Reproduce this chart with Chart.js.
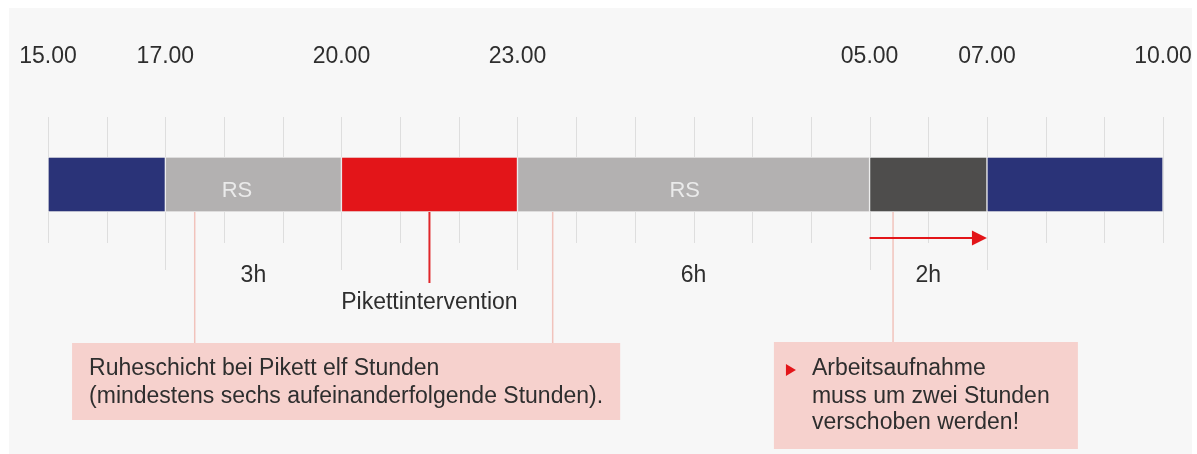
<!DOCTYPE html>
<html>
<head>
<meta charset="utf-8">
<script src="https://cdn.jsdelivr.net/npm/chart.js@4"></script>
<style>
  body { margin: 0; background: #fff; }
  #wrap { width: 1197px; height: 454px; }
</style>
</head>
<body>
<div id="wrap"><canvas id="timeline" width="1197" height="454"></canvas></div>
<script>
// hours counted from 15.00
const tickHours = [0, 2, 5, 8, 14, 16, 19];
const tickLabels = ["15.00", "17.00", "20.00", "23.00", "05.00", "07.00", "10.00"];
const segStart = [0, 2, 5, 8, 14, 16];
const segEnd = [2, 5, 8, 14, 16, 19];
const segNames = ["Arbeit", "RS", "Pikettintervention", "RS", "Verschoben", "Arbeit"];
const segColors = ["#2a3378", "#b3b1b1", "#e31519", "#b3b1b1", "#4e4d4c", "#2a3378"];
const rsTextAt = [3.22, 10.85];
const longTicks = [2, 5, 8, 14, 16];
const durLabels = ["3h", "6h", "2h"];
const durAt = [3.5, 11, 15];
const piketAt = 6.5;
const restLinks = [2.5, 8.6];
const shiftLink = 14.4;

const FONT = "'Liberation Sans', Arial, Helvetica, sans-serif";
const textColor = "#2e2e2e";

const datasets = segStart.map((s, i) => ({
    label: segNames[i],
    data: [[s, segEnd[i]]],
    backgroundColor: segColors[i],
    borderColor: "#ececec",
    borderWidth: 1,
    borderSkipped: false,
    barPercentage: 1,
    categoryPercentage: 1
}));

const decor = {
    id: "decor",
    beforeDraw(chart) {
        let ctx = chart.ctx;
        ctx.save();
        ctx.fillStyle = "#ffffff";
        ctx.fillRect(0, 0, chart.width, chart.height);
        ctx.fillStyle = "#f7f7f7";
        ctx.fillRect(9, 8, 1183, 446);
        ctx.restore();
    },
    beforeDatasetsDraw(chart) {
        let ctx = chart.ctx;
        let x = chart.scales.x;
        let area = chart.chartArea;
        ctx.save();
        ctx.strokeStyle = "#dedede";
        ctx.lineWidth = 1;
        for (let h = 0; h <= 19; h++) {
            let px = Math.round(x.getPixelForValue(h)) + 0.5;
            let end = longTicks.includes(h) ? area.bottom + 58 : area.bottom + 31;
            ctx.beginPath();
            ctx.moveTo(px, area.top - 40);
            ctx.lineTo(px, end);
            ctx.stroke();
        }
        ctx.restore();
    },
    afterDatasetsDraw(chart) {
        let ctx = chart.ctx;
        let x = chart.scales.x;
        let area = chart.chartArea;
        let b = area.bottom;
        ctx.save();
        ctx.textAlign = "center";
        ctx.textBaseline = "middle";

        // RS labels in the bar
        ctx.fillStyle = "#eaeaea";
        ctx.font = "22px " + FONT;
        rsTextAt.forEach(h => {
            ctx.fillText("RS", x.getPixelForValue(h), (area.top + area.bottom) / 2 + 6);
        });

        // pink connector lines
        ctx.strokeStyle = "#f1c3bc";
        ctx.lineWidth = 1.5;
        restLinks.concat([shiftLink]).forEach(h => {
            let px = x.getPixelForValue(h);
            ctx.beginPath();
            ctx.moveTo(px, b);
            ctx.lineTo(px, b + 131);
            ctx.stroke();
        });

        // Pikett line
        ctx.strokeStyle = "#e0262a";
        ctx.lineWidth = 2;
        let pp = x.getPixelForValue(piketAt);
        ctx.beginPath();
        ctx.moveTo(pp, b);
        ctx.lineTo(pp, b + 71);
        ctx.stroke();

        // duration labels
        ctx.fillStyle = textColor;
        ctx.font = "23px " + FONT;
        durLabels.forEach((t, i) => {
            ctx.fillText(t, x.getPixelForValue(durAt[i]), b + 64);
        });
        ctx.fillText("Pikettintervention", pp, b + 91);

        // arrow 05.00 -> 07.00
        let a0 = x.getPixelForValue(14);
        let a1 = x.getPixelForValue(16);
        let ay = b + 26;
        ctx.strokeStyle = "#e31519";
        ctx.fillStyle = "#e31519";
        ctx.lineWidth = 2;
        ctx.beginPath();
        ctx.moveTo(a0, ay);
        ctx.lineTo(a1 - 14, ay);
        ctx.stroke();
        ctx.beginPath();
        ctx.moveTo(a1, ay);
        ctx.lineTo(a1 - 15, ay - 7.5);
        ctx.lineTo(a1 - 15, ay + 7.5);
        ctx.closePath();
        ctx.fill();

        // note boxes
        ctx.fillStyle = "#f6d1cd";
        let bx1 = x.getPixelForValue(0.41);
        let bx1r = x.getPixelForValue(9.75);
        ctx.fillRect(bx1, b + 131, bx1r - bx1, 77);
        let bx2 = x.getPixelForValue(12.37);
        let bx2r = x.getPixelForValue(17.55);
        ctx.fillRect(bx2, b + 130, bx2r - bx2, 107);

        ctx.fillStyle = textColor;
        ctx.font = "23px " + FONT;
        ctx.textAlign = "left";
        ctx.fillText("Ruheschicht bei Pikett elf Stunden", bx1 + 17, b + 157);
        ctx.fillText("(mindestens sechs aufeinanderfolgende Stunden).", bx1 + 17, b + 185);
        ctx.fillText("Arbeitsaufnahme", bx2 + 38, b + 157);
        ctx.fillText("muss um zwei Stunden", bx2 + 38, b + 185);
        ctx.fillText("verschoben werden!", bx2 + 38, b + 211);

        ctx.fillStyle = "#e31519";
        ctx.beginPath();
        ctx.moveTo(bx2 + 12, b + 152);
        ctx.lineTo(bx2 + 22, b + 158);
        ctx.lineTo(bx2 + 12, b + 164);
        ctx.closePath();
        ctx.fill();
        ctx.restore();
    }
};

new Chart("timeline", {
    type: "bar",
    data: { labels: ["Zeit"], datasets: datasets },
    options: {
        indexAxis: "y",
        responsive: false,
        animation: false,
        events: [],
        layout: { padding: { left: 48, right: 34, top: 8, bottom: 242 } },
        plugins: { legend: { display: false }, tooltip: { enabled: false } },
        scales: {
            x: {
                type: "linear",
                position: "top",
                min: 0,
                max: 19,
                afterBuildTicks: (scale) => {
                    scale.ticks = tickHours.map(v => ({ value: v }));
                },
                afterFit: (scale) => {
                    scale.height = 149;
                    scale.paddingLeft = 0;
                    scale.paddingRight = 0;
                },
                ticks: {
                    autoSkip: false,
                    maxRotation: 0,
                    padding: 87,
                    color: textColor,
                    font: { family: FONT, size: 23 },
                    callback: (v) => tickLabels[tickHours.indexOf(v)]
                },
                grid: { display: false, drawTicks: false },
                border: { display: false }
            },
            y: {
                display: false,
                stacked: true
            }
        }
    },
    plugins: [decor]
});
</script>
</body>
</html>
